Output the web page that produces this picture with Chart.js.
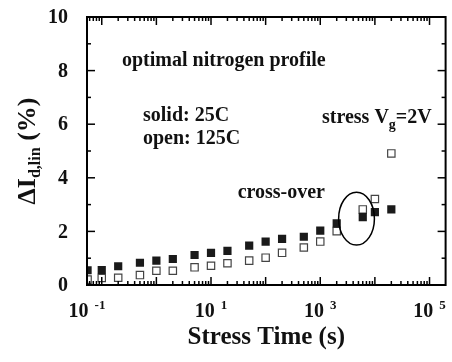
<!DOCTYPE html>
<html>
<head>
<meta charset="utf-8">
<script src="https://cdn.jsdelivr.net/npm/chart.js@4"></script>
<style>
  html, body { margin: 0; padding: 0; background: #fff; }
  #wrap { width: 452px; height: 362px; }
</style>
</head>
<body>
<div id="wrap"><canvas id="myChart" width="452" height="362"></canvas></div>
<script>
// stress time (s) and delta Id,lin (%)
const stressTime = [0.055, 0.1, 0.2, 0.5, 1, 2, 5, 10, 20, 50, 100, 200, 500, 1000, 2000, 6000, 10000, 20000];
const solid25C = [0.55, 0.56, 0.7, 0.83, 0.91, 0.97, 1.12, 1.2, 1.27, 1.47, 1.62, 1.72, 1.8, 2.03, 2.3, 2.53, 2.72, 2.82];
const open125C = [0.2, 0.26, 0.27, 0.37, 0.53, 0.53, 0.66, 0.72, 0.81, 0.91, 1.02, 1.2, 1.4, 1.62, 2.01, 2.82, 3.21, 4.91];

const xTickValues = [0.1, 10, 1000, 100000];
const xTickExponents = ['-1', '1', '3', '5'];
const yTickValues = [0, 2, 4, 6, 8, 10];

// the ellipse round the cross-over, in data units
const crossOver = { xMin: 2170, xMax: 9800, yMin: 1.49, yMax: 3.46 };

const serif = '"Liberation Serif", "Times New Roman", serif';

function toPoints(xs, ys) {
  return xs.map((t, i) => ({ x: t, y: ys[i] }));
}

function line(ctx, x1, y1, x2, y2) {
  ctx.beginPath();
  ctx.moveTo(x1, y1);
  ctx.lineTo(x2, y2);
  ctx.stroke();
}

const framePlugin = {
  id: 'frame',
  afterDatasetsDraw(chart) {
    const { ctx, chartArea: a, scales: { x, y } } = chart;
    ctx.save();
    ctx.strokeStyle = '#000';

    // cross-over ellipse
    const ex1 = x.getPixelForValue(crossOver.xMin), ex2 = x.getPixelForValue(crossOver.xMax);
    const ey1 = y.getPixelForValue(crossOver.yMax), ey2 = y.getPixelForValue(crossOver.yMin);
    ctx.lineWidth = 1.5;
    ctx.beginPath();
    ctx.ellipse((ex1 + ex2) / 2, (ey1 + ey2) / 2, (ex2 - ex1) / 2, (ey2 - ey1) / 2, 0, 0, Math.PI * 2);
    ctx.stroke();

    // box
    ctx.lineWidth = 2;
    ctx.strokeRect(a.left, a.top, a.right - a.left, a.bottom - a.top);

    // log ticks, top and bottom, pointing in
    ctx.lineWidth = 1.5;
    for (let e = -2; e <= 5; e++) {
      for (let m = 1; m < 10; m++) {
        const v = m * Math.pow(10, e);
        if (v < x.min || v > x.max) continue;
        const px = x.getPixelForValue(v);
        const len = m === 1 ? 8 : 4;
        line(ctx, px, a.bottom, px, a.bottom - len);
        line(ctx, px, a.top, px, a.top + len);
      }
    }
    // linear ticks, left and right
    for (let v = 0; v <= 10; v++) {
      const py = y.getPixelForValue(v);
      const len = v % 2 ? 4 : 8;
      line(ctx, a.left, py, a.left + len, py);
      line(ctx, a.right, py, a.right - len, py);
    }
    ctx.restore();
  },
  afterDraw(chart) {
    const { ctx, chartArea: a, scales: { x, y } } = chart;
    ctx.save();
    ctx.fillStyle = '#111';

    // y tick labels
    ctx.font = 'bold 20px ' + serif;
    ctx.textAlign = 'right';
    ctx.textBaseline = 'middle';
    yTickValues.forEach(v => ctx.fillText(String(v), 68, y.getPixelForValue(v) + 1));

    // x tick labels: 10 with a raised exponent
    ctx.textBaseline = 'alphabetic';
    ctx.textAlign = 'left';
    xTickValues.forEach((v, i) => {
      ctx.font = 'bold 20px ' + serif;
      const wBase = ctx.measureText('10').width;
      ctx.font = 'bold 13px ' + serif;
      const wExp = ctx.measureText(xTickExponents[i]).width;
      const total = wBase + 6 + wExp;
      // the first label sits on the left edge of the box
      const cx = i === 0 ? a.left : x.getPixelForValue(v);
      const left = cx - total / 2;
      ctx.font = 'bold 20px ' + serif;
      ctx.fillText('10', left, 317);
      ctx.font = 'bold 13px ' + serif;
      ctx.fillText(xTickExponents[i], left + wBase + 6, 309);
    });

    // x title
    ctx.font = 'bold 25px ' + serif;
    ctx.textAlign = 'center';
    ctx.fillText('Stress Time (s)', (a.left + a.right) / 2, 344);

    // y title, rotated, with subscript
    ctx.save();
    ctx.translate(35, (a.top + a.bottom) / 2);
    ctx.rotate(-Math.PI / 2);
    ctx.textAlign = 'left';
    ctx.font = 'bold 26px ' + serif;
    const w1 = ctx.measureText('\u0394I').width;
    ctx.font = 'bold 16px ' + serif;
    const w2 = ctx.measureText('d,lin').width;
    ctx.font = 'bold 26px ' + serif;
    const w3 = ctx.measureText(' (%)').width;
    let tx = -(w1 + w2 + w3) / 2;
    ctx.fillText('\u0394I', tx, 0);
    tx += w1;
    ctx.font = 'bold 16px ' + serif;
    ctx.fillText('d,lin', tx, 5);
    tx += w2;
    ctx.font = 'bold 26px ' + serif;
    ctx.fillText(' (%)', tx, 0);
    ctx.restore();

    // annotations
    ctx.font = 'bold 20px ' + serif;
    ctx.textAlign = 'left';
    ctx.fillText('optimal nitrogen profile', 122, 66);
    ctx.fillText('solid: 25C', 143, 121);
    ctx.fillText('open: 125C', 143, 144);

    let sx = 322;
    ctx.fillText('stress V', sx, 123);
    sx += ctx.measureText('stress V').width;
    ctx.font = 'bold 14px ' + serif;
    ctx.fillText('g', sx, 129);
    sx += ctx.measureText('g').width;
    ctx.font = 'bold 20px ' + serif;
    ctx.fillText('=2V', sx, 123);

    ctx.textAlign = 'right';
    ctx.fillText('cross-over', 325, 198);
    ctx.restore();
  }
};

const ctx = document.getElementById('myChart');

const config = {
  type: 'scatter',
  data: {
    datasets: [
      {
        label: 'solid: 25C',
        data: toPoints(stressTime, solid25C),
        pointStyle: 'rect',
        pointRadius: 5.8,
        backgroundColor: '#1a1a1a',
        borderColor: '#1a1a1a',
        borderWidth: 0
      },
      {
        label: 'open: 125C',
        data: toPoints(stressTime, open125C),
        pointStyle: 'rect',
        pointRadius: 5.2,
        backgroundColor: '#fff',
        borderColor: '#444',
        borderWidth: 1.2
      }
    ]
  },
  options: {
    responsive: false,
    animation: false,
    layout: { padding: { left: 87, right: 4, top: 17, bottom: 77 } },
    plugins: { legend: { display: false }, tooltip: { enabled: false } },
    scales: {
      x: { type: 'logarithmic', min: 0.0537, max: 197000, display: false },
      y: { type: 'linear', min: 0, max: 10, display: false }
    }
  },
  plugins: [framePlugin]
};

new Chart(ctx, config);
</script>
</body>
</html>
